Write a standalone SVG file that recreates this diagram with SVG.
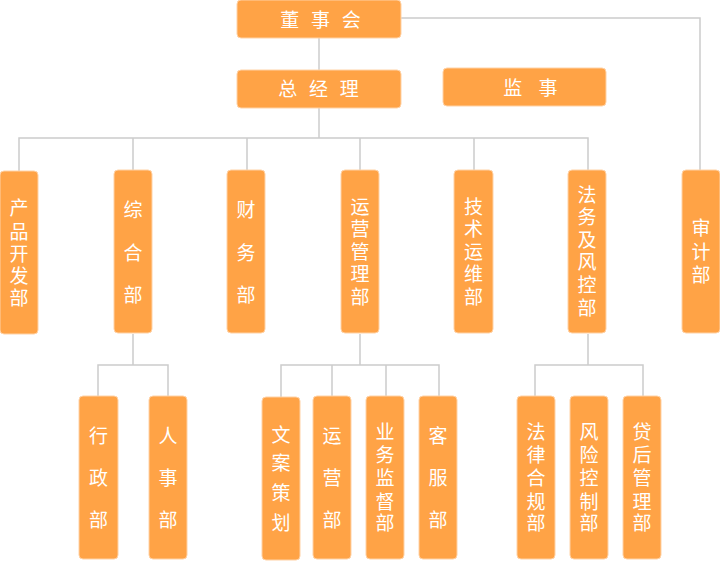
<svg xmlns="http://www.w3.org/2000/svg" width="720" height="561" viewBox="0 0 720 561">
<style>
.box{fill:#FFA346;stroke:#FFD2A6;stroke-width:1}
.t{fill:#fff;font-family:"Noto Sans CJK SC","Noto Sans",sans-serif;font-size:19px;text-anchor:middle}
.h{letter-spacing:3.75px}
.h2{letter-spacing:6px}
.ln{fill:none;stroke:#CCCCCC;stroke-width:1.5}
</style>
<rect width="720" height="561" fill="#fff"/>
<g id="connectors">
<path class="ln" d="M400 18H700V171"/>
<path class="ln" d="M319 38V70"/>
<path class="ln" d="M319 108V138"/>
<path class="ln" d="M19 171V138H588V171M133 138V171M247 138V171M360 138V171M474 138V171"/>
<path class="ln" d="M133 334V365M98 397V365H168V397"/>
<path class="ln" d="M360 334V365M281 397V365H439V397M332 365V397M386 365V397"/>
<path class="ln" d="M588 334V365M535 397V365H643V397"/>
</g>
<g id="n-dongshihui"><rect class="box" x="237" y="0" width="164" height="38" rx="4"/><text class="t h" x="322.4" y="27">董 事 会</text></g>
<g id="n-zongjingli"><rect class="box" x="237" y="70" width="164" height="38" rx="4"/><text class="t h" x="320.4" y="96">总 经 理</text></g>
<g id="n-jianshi"><rect class="box" x="443" y="68" width="163" height="38" rx="4"/><text class="t h2" x="533.5" y="95">监 事</text></g>
<g id="n-chanpin"><rect class="box" x="0" y="171" width="38" height="163" rx="4"/><text class="t"><tspan x="19" y="215">产</tspan><tspan x="19" y="239">品</tspan><tspan x="19" y="261">开</tspan><tspan x="19" y="283">发</tspan><tspan x="19" y="305">部</tspan></text></g>
<g id="n-zonghe"><rect class="box" x="114" y="170" width="38" height="163" rx="4"/><text class="t"><tspan x="133" y="217">综</tspan><tspan x="133" y="260">合</tspan><tspan x="133" y="302">部</tspan></text></g>
<g id="n-caiwu"><rect class="box" x="227" y="170" width="38" height="163" rx="4"/><text class="t"><tspan x="246" y="217">财</tspan><tspan x="246" y="260">务</tspan><tspan x="246" y="302">部</tspan></text></g>
<g id="n-yunying"><rect class="box" x="341" y="170" width="38" height="163" rx="4"/><text class="t"><tspan x="360" y="214">运</tspan><tspan x="360" y="236">营</tspan><tspan x="360" y="259">管</tspan><tspan x="360" y="281">理</tspan><tspan x="360" y="304">部</tspan></text></g>
<g id="n-jishu"><rect class="box" x="454" y="170" width="39" height="163" rx="4"/><text class="t"><tspan x="473.5" y="214">技</tspan><tspan x="473.5" y="236">术</tspan><tspan x="473.5" y="259">运</tspan><tspan x="473.5" y="281">维</tspan><tspan x="473.5" y="304">部</tspan></text></g>
<g id="n-fawu"><rect class="box" x="568" y="170" width="38" height="163" rx="4"/><text class="t"><tspan x="587" y="202">法</tspan><tspan x="587" y="224">务</tspan><tspan x="587" y="247">及</tspan><tspan x="587" y="269">风</tspan><tspan x="587" y="292">控</tspan><tspan x="587" y="315">部</tspan></text></g>
<g id="n-shenji"><rect class="box" x="682" y="170" width="38" height="163" rx="4"/><text class="t"><tspan x="701" y="235">审</tspan><tspan x="701" y="259">计</tspan><tspan x="701" y="282">部</tspan></text></g>
<g id="n-xingzheng"><rect class="box" x="79" y="396" width="39" height="163" rx="4"/><text class="t"><tspan x="98.5" y="443">行</tspan><tspan x="98.5" y="485">政</tspan><tspan x="98.5" y="527">部</tspan></text></g>
<g id="n-renshi"><rect class="box" x="149" y="396" width="38" height="163" rx="4"/><text class="t"><tspan x="168" y="443">人</tspan><tspan x="168" y="485">事</tspan><tspan x="168" y="527">部</tspan></text></g>
<g id="n-wenan"><rect class="box" x="262" y="397" width="38" height="163" rx="4"/><text class="t"><tspan x="281" y="442">文</tspan><tspan x="281" y="470">案</tspan><tspan x="281" y="500">策</tspan><tspan x="281" y="530">划</tspan></text></g>
<g id="n-yunyingbu"><rect class="box" x="313" y="396" width="38" height="163" rx="4"/><text class="t"><tspan x="332" y="443">运</tspan><tspan x="332" y="485">营</tspan><tspan x="332" y="527">部</tspan></text></g>
<g id="n-yewu"><rect class="box" x="366" y="396" width="38" height="163" rx="4"/><text class="t"><tspan x="385" y="439">业</tspan><tspan x="385" y="462">务</tspan><tspan x="385" y="485">监</tspan><tspan x="385" y="509">督</tspan><tspan x="385" y="530">部</tspan></text></g>
<g id="n-kefu"><rect class="box" x="419" y="396" width="38" height="163" rx="4"/><text class="t"><tspan x="438" y="443">客</tspan><tspan x="438" y="485">服</tspan><tspan x="438" y="527">部</tspan></text></g>
<g id="n-falv"><rect class="box" x="517" y="396" width="38" height="163" rx="4"/><text class="t"><tspan x="536" y="439">法</tspan><tspan x="536" y="462">律</tspan><tspan x="536" y="485">合</tspan><tspan x="536" y="509">规</tspan><tspan x="536" y="530">部</tspan></text></g>
<g id="n-fengxian"><rect class="box" x="570" y="396" width="38" height="163" rx="4"/><text class="t"><tspan x="589" y="439">风</tspan><tspan x="589" y="462">险</tspan><tspan x="589" y="485">控</tspan><tspan x="589" y="509">制</tspan><tspan x="589" y="530">部</tspan></text></g>
<g id="n-daihou"><rect class="box" x="623" y="396" width="38" height="163" rx="4"/><text class="t"><tspan x="642" y="439">贷</tspan><tspan x="642" y="462">后</tspan><tspan x="642" y="485">管</tspan><tspan x="642" y="509">理</tspan><tspan x="642" y="530">部</tspan></text></g>
</svg>
